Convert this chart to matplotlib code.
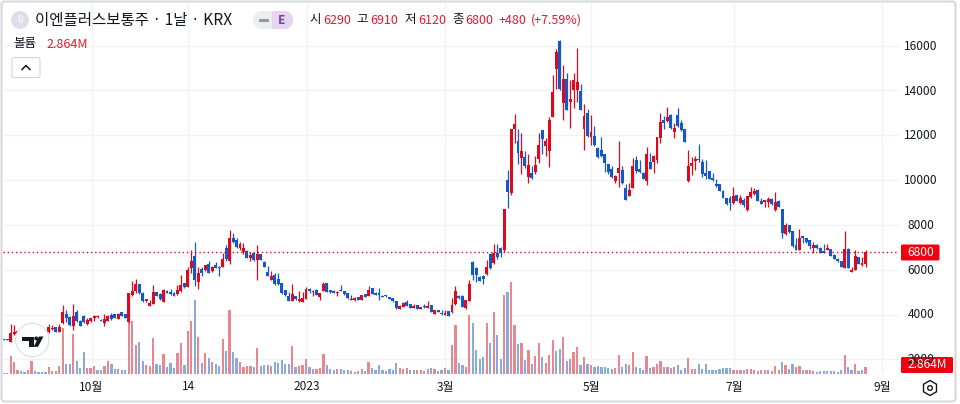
import matplotlib
matplotlib.use("Agg")
import matplotlib.pyplot as plt
from matplotlib.patches import Circle, FancyBboxPatch, Polygon, Rectangle, RegularPolygon

plt.rcParams['font.family'] = ['Noto Sans CJK KR', 'DejaVu Sans']

opens = [2880,2890,2800,3140,3200,3260,3280,3230,3300,3340,3320,3280,3250,3214,3380,3440,3240,3646,4018,3914,
 3510,4100,3720,3930,3600,3720,3870,3900,3760,3620,3720,3970,4020,3830,4110,4020,3690,4880,5060,5360,
 4960,4610,4410,4500,5000,4910,4580,5060,5030,4970,4940,5060,5400,5240,6070,6630,5450,6030,6000,6250,
 5960,6220,6150,6150,7000,6400,7420,7360,7000,6790,6850,6520,6750,6450,6700,6370,5925,5550,5790,5610,
 5400,5110,4840,4610,4820,4600,4580,4720,5150,5000,5090,4810,5060,5400,5110,5070,4960,5090,5060,4960,
 4660,4660,4780,4660,4930,4850,5180,4960,4950,4850,4850,4800,4730,4610,4260,4360,4550,4480,4290,4420,
 4270,4390,4320,4420,4030,4210,4080,4000,4150,4110,4480,4840,4840,4290,4630,6370,6100,5700,5750,5810,
 6700,6300,6750,6970,6890,10020,9460,12330,11770,11030,11060,10150,10330,10400,10980,12260,11560,11340,12860,15000,
 16260,13460,14550,13520,14050,14050,14010,12310,13010,11950,11980,11450,11370,11190,10740,10510,9960,10330,10480,9660,
 9310,9690,10920,10510,10360,10000,10830,10850,10920,11920,12710,12650,12950,12190,12940,12590,12310,9960,10660,10880,
 10980,10820,10360,10420,10120,9870,9840,9550,9200,9210,9000,9360,9000,9150,8670,9270,9390,9600,9090,9030,
 9030,9170,8670,9090,8720,7630,8000,7740,7110,6890,7500,7410,7330,6990,7110,7000,6860,6890,6920,6660,
 6480,6390,6100,6960,5930,5990,6570,6220,6290]
highs = [2900,2920,3586,3540,3290,3300,3320,3320,3600,3380,3350,3320,3290,3571,3540,3460,3590,4435,4210,3950,
 4480,4210,3760,3990,3840,3870,4000,3990,3810,4050,3990,4090,4040,4070,4120,4030,4960,5510,5600,5390,
 5030,4720,4640,5330,5010,4990,5130,5100,5130,5030,5340,5770,5410,6120,6880,7250,6130,6130,6240,6390,
 6160,6370,6170,6760,7100,7810,7660,7430,7250,7220,6880,6800,6800,7130,6720,6400,6200,5970,5860,5850,
 5400,5110,5000,5390,4850,5060,5000,5240,5200,5120,5130,4990,5460,5430,5120,5090,5060,5320,5070,4970,
 4890,4770,4810,4900,4940,5270,5190,5000,5200,4870,4890,4810,4740,4620,4430,4580,4640,4490,4480,4430,
 4340,4470,4600,4430,4220,4230,4210,4210,4160,4740,5300,4900,4880,4680,5540,6420,6130,5720,5760,6450,
 6780,7180,7150,7010,8750,10470,12330,12970,12310,12110,11330,11180,10660,11100,12120,12270,11890,12830,14710,15870,
 16290,15170,14800,14500,14830,15920,14310,13430,13190,12940,12440,11520,11940,11200,10750,10660,10250,11770,10660,9850,
 9880,11000,11100,10920,10390,11490,11220,11150,11960,13010,12890,13280,12980,12590,13230,12710,12310,11370,11070,11090,
 11650,10970,10940,10430,10340,10090,9850,9560,9210,9310,9720,9370,9340,9210,9310,9720,9690,9610,9200,9150,
 9260,9240,9510,9150,8730,8120,8010,7750,7450,7850,7510,7450,7360,7240,7180,7010,7180,7150,6930,6710,
 6530,6400,7730,6970,6140,6910,6580,6560,6910]
lows = [2850,2860,2770,3100,3150,3200,3240,3200,3260,3290,3270,3240,3200,3170,3300,3230,3210,3570,3690,3480,
 3320,3660,3480,3650,3540,3660,3720,3870,3720,3510,3700,3750,3840,3810,3950,3860,3640,4850,4960,4910,
 4550,4580,4390,4480,4840,4680,4560,4950,4890,4820,4880,5030,5200,5230,5880,5300,5170,5730,5950,5870,
 5910,6080,5750,6130,6420,6270,7220,6970,6900,6700,6540,6400,6400,5570,6430,6120,5730,5540,5310,5350,
 4930,4850,4620,4600,4660,4590,4570,4710,4990,4820,4860,4680,5040,5000,4990,4970,4840,5040,4900,4720,
 4650,4600,4660,4650,4800,4830,4920,4880,4640,4780,4790,4690,4590,4270,4250,4350,4390,4310,4280,4250,
 4260,4320,4310,4110,4020,4110,3990,3980,3950,4090,4450,4720,4350,4270,4620,5570,5480,5490,5370,5780,
 6050,6280,6480,6600,6800,8790,9350,11690,10740,10300,10580,9910,10060,10300,10800,11190,11100,10630,12830,14080,
 14050,12710,13150,12370,13260,13530,13150,11370,11970,11600,11570,11010,11070,10400,10300,10100,9910,9700,9840,9130,
 9300,9660,10360,10330,10060,9810,10510,10330,10800,11700,12290,12620,12290,11920,12410,12230,11730,9950,10250,10460,
 10830,10180,10070,10070,9990,9720,9530,9200,8930,8670,8940,9080,8940,8820,8630,9240,9340,9080,8940,8820,
 8820,8930,8660,8810,7440,7560,7650,7050,6880,6880,7230,7210,6960,6770,6930,6740,6740,6880,6620,6480,
 6350,6120,6070,6100,5900,5980,6280,6200,6120]
closes = [2860,2870,3170,3210,3250,3230,3260,3290,3350,3310,3290,3260,3230,3467,3420,3240,3470,4108,3840,3540,
 3930,3720,3500,3690,3780,3850,3960,3960,3740,3810,3960,3790,3860,4050,3960,3870,4960,5060,5360,4960,
 4610,4690,4540,5000,4850,4700,5100,4970,4910,4850,5110,5310,5240,6000,6400,5550,5870,5870,6220,5880,
 6130,6100,6070,6490,6490,7420,7240,7040,7180,6970,6550,6670,6450,6700,6450,6150,5750,5730,5370,5370,
 4960,4870,4630,4930,4700,4690,4750,5170,5080,5070,4870,4960,5370,5020,5000,4990,5030,5050,4910,4730,
 4700,4730,4670,4880,4810,5110,4930,4900,4880,4810,4820,4700,4600,4290,4410,4510,4400,4320,4410,4260,
 4330,4330,4390,4120,4210,4120,4030,4060,3960,4440,5060,4730,4360,4660,5390,5780,5780,5510,5600,6150,
 6070,6780,6600,6750,8730,9500,12330,12530,11250,11330,10660,10700,10130,10700,11580,11880,11760,12710,13960,15770,
 14080,14530,13160,13650,14500,14410,13160,12890,12000,12180,11590,11070,11100,10800,10400,10150,10210,10550,9910,9140,
 9580,10660,10430,10400,10090,11190,10520,11100,11950,12610,12590,12830,12350,12370,12440,12260,11740,10660,10770,10950,
 10910,10310,10190,10090,10010,9760,9540,9210,8940,9000,9330,9090,9230,8900,9300,9480,9540,9090,8970,9120,
 9170,8940,9050,8820,7660,8000,7700,7060,6890,7450,7410,7260,7080,7110,6990,6750,6780,6980,6630,6510,
 6390,6130,6930,6110,6020,6620,6290,6320,6800]
volumes_m = [0.3,0.3,7.9,5.0,1.6,1.1,0.9,1.6,5.4,1.1,0.7,0.7,0.7,2.9,1.4,1.1,3.3,19.7,4.4,4.4,
 17,5.4,2.4,9.6,2.4,2.4,3.6,1.6,1.6,3.3,5.4,4.1,2.1,2.3,1.9,1.7,24,22.6,
 12.3,13.6,5.4,3.7,3.3,15.3,4.1,3.7,8.4,2.9,4.6,2.4,8.9,13.2,3.7,18.3,22.6,31.6,15.7,4.6,8.9,6.7,5,4.1,3.3,14.9,9.7,27.3,9.3,6.7,5,2.9,3.3,3.3,2.9,11,3.3,3.7,
 3.9,3.3,5.1,4.7,6,4.3,4.3,12,3,3.4,3.9,6.4,3,2.1,2.1,2.6,8.6,3.9,2.1,1.7,2.1,2,1.9,1.7,1.3,1,1.3,2.1,1.3,5.1,2.6,1.7,3.9,1.7,1.3,2.1,1.7,
 4.7,2.6,2.3,2.6,1.7,1.7,1.7,1.7,1.3,2,2.6,2.1,1.3,1.7,2.6,1.7,12.4,21,4.7,3.9,3,25.3,21.9,10.3,6.4,7.3,21.9,13.3,26.6,16.7,6.4,33.9,35.2,39.5,21,12.9,13.3,6,
 10.3,4.3,7.7,13.3,7.3,4.7,8.1,14.6,9.9,10.7,15.9,5.6,6.4,9.4,11.6,3.9,7.3,4.3,3.9,3,3.4,3,3,2.6,2.1,2.6,8.1,3,4.3,3.9,9.4,3,2.6,1.7,7.7,2.6,3,
 4.3,5.7,3,2.9,2.4,3,3.7,1.7,2.6,6.7,2.3,2,4.4,2.1,4.1,1.6,1.9,1.7,2.1,2.4,2.7,2.7,1.9,1.6,1.6,1.6,2.3,2.3,1.7,1.3,1.6,1.6,1.6,1.4,3.3,1.6,5,4,2,4.4,3.1,3.3,1.6,1.6,1.6,1.4,1,1.3,1.1,1.1,1.1,1.1,1,1.6,8.3,2.9,1.7,4.1,1.4,1.7,2.864]
volume_dirs = ("BRRRRBBRRBBBBRRRRRBBRBBBRRRBBRRBBRBBRR"
               "RBBRRRBBRBBBRRBRRBRBRBRBBRBRBBRRRRBRBB"
               "BRBBBBBRBRRRBRRRRBBBRBBBRRBRBRBBBBBBB"
               "BRRRBBRRBRBRBBRBRRBBRRBBBBRBRBBRBRRBRB"
               "RBRRBRRRBBRBRRRBRBRBBBBBBRRBBRRBBBRBR"
               "RRBRBRBBBRRRBBBBBBBBBBRRRBRRRBRRRBRRBRBBRRBRRRBBBBBBBBRBBRBBR")
assert len(opens) == len(highs) == len(lows) == len(closes) == len(volumes_m) == len(volume_dirs)

tick_positions = [25.3, 53.1, 87.2, 127.1, 169.1, 210.1, 252.8]
tick_labels = ["10월", "14", "2023", "3월", "5월", "7월", "9월"]
price_ticks = [2000, 4000, 6000, 8000, 10000, 12000, 14000, 16000]
last_price = 6800
last_volume_label = "2.864M"

RED = "#dc0a1c"; BLUE = "#1258c9"; TXT = "#131722"; GRID = "#f1f2f5"
W, H = 960, 404
fig = plt.figure(figsize=(W/100, H/100), dpi=100, facecolor="white")

def rect(l, t, r, b):
    return [l/W, 1-b/H, (r-l)/W, (b-t)/H]

pane = rect(3, 3, 899, 374)
xlim = ((3-3.7)/3.475, (899-3.7)/3.475)
ax = fig.add_axes(pane, facecolor="none", zorder=3)
axv = fig.add_axes(pane, facecolor="white", zorder=1)
for a in (ax, axv):
    a.set_xlim(*xlim)
    for s in a.spines.values():
        s.set_visible(False)
    a.tick_params(left=False, bottom=False, labelleft=False, labelbottom=False)
ax.set_ylim(6000-104*44.74, 6000+267*44.74)
axv.set_ylim(0, 370*0.4293)

for p in price_ticks:
    axv.axhline((270+(6000-p)/2000*44.7 - 374)/-370*370*0.4293, color=GRID, lw=1, zorder=0)
for t in tick_positions:
    axv.axvline(t, color=GRID, lw=1, zorder=0)

idx = list(range(len(closes)))
vol_cols = ["#e78790" if d == "R" else "#8aa9dc" for d in volume_dirs]
axv.bar(idx, volumes_m, width=0.64, color=vol_cols, linewidth=0, zorder=2)

cols = [RED if c >= o else BLUE for o, c in zip(opens, closes)]
ax.vlines(idx, lows, highs, colors=cols, lw=0.9, zorder=3)
ax.bar(idx, [max(abs(c-o), 40) for o, c in zip(opens, closes)],
       bottom=[min(o, c) for o, c in zip(opens, closes)],
       width=0.84, color=cols, linewidth=0, zorder=4)
ax.axhline(last_price, color="#d8101f", lw=1, ls=(0, (1, 2)), zorder=5)

# pixel overlay for interface furniture
ov = fig.add_axes([0, 0, 1, 1], facecolor="none", zorder=6)
ov.set_xlim(0, W); ov.set_ylim(H, 0); ov.axis("off")

FS = 8.6
for p in price_ticks:
    y = 270 + (6000-p)/2000*44.7
    ov.text(921, y, str(p), ha="center", va="center", fontsize=FS, color=TXT)
for t, l in zip(tick_positions, tick_labels):
    ov.text(3.7+3.475*t, 387, l, ha="center", va="center", fontsize=FS, color=TXT,
            fontweight="medium" if l == "2023" else "normal")

ov.add_patch(FancyBboxPatch((901, 244.5), 38.5, 16, boxstyle="round,pad=0,rounding_size=1.5", fc="#f00011", ec="none"))
ov.text(920.5, 252.5, str(last_price), ha="center", va="center", fontsize=FS, color="white", fontweight="medium")
ov.add_patch(FancyBboxPatch((901, 357), 52, 16, boxstyle="round,pad=0,rounding_size=1.5", fc="#f00011", ec="none"))
ov.text(927, 365, last_volume_label, ha="center", va="center", fontsize=FS, color="white", fontweight="medium")
ov.add_patch(RegularPolygon((930, 388), 6, radius=7.5, orientation=0, fc="none", ec=TXT, lw=1))
ov.add_patch(Circle((930, 388), 2.3, fc="none", ec=TXT, lw=1))

# frame
ov.add_patch(FancyBboxPatch((1.5, 1.5), 954, 400, boxstyle="round,pad=0,rounding_size=3", fc="none", ec="#d6d8de", lw=1.5))

# header
ov.add_patch(Circle((20, 20), 9, fc="#dcdee8", ec="none"))
ov.text(20, 20, "0", ha="center", va="center", fontsize=7, color="white")
ov.text(35, 20, "이엔플러스보통주 · 1날 · KRX", ha="left", va="center", fontsize=11.2, color=TXT)
ov.add_patch(FancyBboxPatch((253, 11), 28, 18, boxstyle="round,pad=0,rounding_size=9", fc="#ecedf1", ec="none"))
ov.add_patch(FancyBboxPatch((265, 11), 28, 18, boxstyle="round,pad=0,rounding_size=9", fc="#e6d5f0", ec="none"))
ov.add_patch(Rectangle((262, 11), 10, 18, fc="#ecedf1", ec="none"))
ov.add_patch(Rectangle((259, 18.5), 10, 3, fc="#9598a1", ec="none"))
ov.text(282, 20, "E", ha="center", va="center", fontsize=8.6, color="#7b3fa0", fontweight="bold")
ov_red = "#e8192c"
for x, s, c in [(309, "시", TXT), (323, "6290", ov_red), (356, "고", TXT), (370, "6910", ov_red),
                (404, "저", TXT), (418, "6120", ov_red), (452, "종", TXT), (465, "6800", ov_red),
                (499, "+480", ov_red), (531, "(+7.59%)", ov_red)]:
    ov.text(x, 20, s, ha="left", va="center", fontsize=9, color=c)
ov.text(13, 44, "볼륨", ha="left", va="center", fontsize=9, color=TXT)
ov.text(46, 44, last_volume_label, ha="left", va="center", fontsize=9, color=ov_red)
ov.add_patch(FancyBboxPatch((12, 57.5), 28, 20, boxstyle="round,pad=0,rounding_size=2", fc="white", ec="#d1d4dc", lw=0.8))
ov.plot([22, 26, 30], [69.5, 65.5, 69.5], color=TXT, lw=1.1)

# logo
ov.add_patch(Circle((32.3, 340), 16.7, fc="white", ec="#e0e3eb", lw=1))
ov.add_patch(Polygon([(21.7, 336.5), (33.5, 336.5), (33.5, 346.8), (28.5, 346.8), (28.5, 340.8), (21.7, 340.8)], fc="#131722", ec="none"))
ov.add_patch(Circle((36.3, 338.5), 2, fc="#131722", ec="none"))
ov.add_patch(Polygon([(38, 346.8), (33.6, 346.8), (39, 336.5), (43.5, 336.5)], fc="#131722", ec="none"))

fig.savefig("out.png", dpi=100, facecolor="white")
